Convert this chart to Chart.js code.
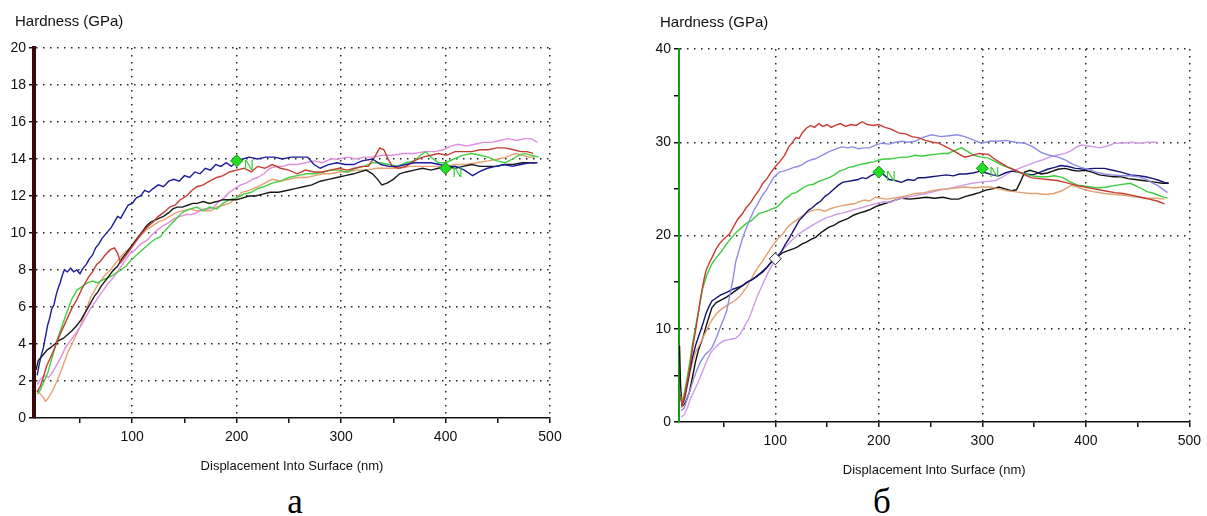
<!DOCTYPE html>
<html>
<head>
<meta charset="utf-8">
<script src="https://cdn.jsdelivr.net/npm/chart.js@4.4.1/dist/chart.umd.min.js"></script>
<style>
    body { margin: 0; background: #fff; }
    #page { position: relative; width: 1207px; height: 516px; overflow: hidden; }
    .box { position: absolute; top: 0; }
    .cap {
        position: absolute;
        font-family: "Liberation Serif", "Times New Roman", serif;
        font-size: 35px;
        line-height: 35px;
        transform: translateX(-50%);
        color: #000;
    }
</style>
</head>
<body>
<div id="page">
    <div class="box" style="left:0;width:590px;height:478px"><canvas id="chart-a"></canvas></div>
    <div class="box" style="left:640px;width:567px;height:480px"><canvas id="chart-b"></canvas></div>
    <div class="cap" style="left:295px;top:484px">а</div>
    <div class="cap" style="left:882px;top:484px">б</div>
</div>
<script>
(function () {
    "use strict";

    // panel а : hardness vs displacement, six indents
    const aNavy = [[9,2.3],[11,2.9],[13,3.4],[15,3.8],[17,4.4],[19,5.0],[21,5.4],[23,5.9],[25,6.1],[27,6.6],[29,7.0],[31,7.3],[33,7.7],[35,8.0],[38,7.9],[41,8.1],[44,7.9],[47,8.0],[50,7.8],[53,8.1],[56,8.3],[59,8.6],[62,8.8],[65,9.2],[68,9.4],[71,9.7],[74,9.9],[77,10.1],[80,10.3],[83,10.6],[86,10.9],[89,10.8],[92,11.1],[96,11.5],[100,11.6],[104,11.9],[108,12.0],[112,12.3],[116,12.2],[120,12.4],[125,12.6],[130,12.5],[135,12.8],[140,12.9],[145,12.8],[150,13.1],[155,13.0],[160,13.3],[165,13.2],[170,13.5],[175,13.4],[180,13.7],[185,13.6],[190,13.8],[195,13.6],[200,13.9],[206,14.0],[212,14.1],[220,14.0],[228,14.1],[236,14.1],[244,14.0],[252,14.1],[260,14.1],[268,14.1],[274,13.7],[280,13.5],[288,13.7],[296,13.8],[304,13.7],[312,13.7],[320,13.9],[330,14.0],[338,13.7],[346,13.6],[354,13.6],[362,13.7],[370,13.8],[378,13.8],[386,13.8],[394,13.7],[402,13.6],[410,13.6],[418,13.4],[426,13.1],[432,13.3],[440,13.5],[448,13.6],[456,13.7],[464,13.6],[472,13.7],[480,13.8],[488,13.8]];
    const aRed = [[9,1.4],[12,1.7],[15,2.2],[18,2.8],[22,3.3],[26,3.8],[30,4.4],[34,4.9],[38,5.4],[42,5.9],[47,6.4],[52,7.0],[58,7.6],[62,7.9],[66,8.3],[70,8.5],[74,8.8],[79,9.1],[83,9.2],[86,8.9],[89,8.4],[93,8.7],[98,9.1],[103,9.5],[108,9.9],[114,10.3],[120,10.6],[125,10.9],[130,11.1],[136,11.4],[141,11.5],[146,11.8],[152,12.0],[157,12.3],[162,12.5],[168,12.6],[174,12.8],[181,13.0],[187,13.1],[193,13.3],[200,13.4],[207,13.5],[214,13.3],[220,13.6],[227,13.5],[234,13.7],[242,13.5],[250,13.4],[258,13.2],[266,13.4],[274,13.3],[282,13.3],[290,13.4],[298,13.5],[306,13.4],[313,13.5],[320,13.6],[326,13.6],[332,14.1],[337,14.6],[341,14.5],[345,14.0],[349,13.6],[355,13.5],[362,13.6],[370,13.9],[378,14.1],[386,14.2],[393,14.3],[401,14.2],[409,14.4],[417,14.4],[425,14.4],[433,14.5],[441,14.5],[449,14.6],[457,14.6],[465,14.5],[472,14.4],[478,14.4],[484,14.3]];
    const aPink = [[9,1.8],[12,2.1],[16,2.3],[20,2.2],[24,2.5],[28,2.9],[32,3.3],[36,3.8],[40,4.1],[45,4.5],[50,4.9],[55,5.4],[60,5.9],[66,6.4],[71,6.8],[76,7.2],[82,7.6],[87,8.0],[92,8.4],[98,8.9],[103,9.1],[108,9.4],[114,9.6],[119,9.9],[125,10.2],[130,10.4],[136,10.6],[141,10.8],[146,10.9],[152,11.0],[157,11.0],[162,11.1],[168,11.3],[173,11.3],[178,11.4],[183,11.7],[188,11.9],[193,12.2],[198,12.4],[204,12.6],[209,12.7],[215,12.9],[220,13.0],[226,13.2],[232,13.5],[238,13.6],[244,13.6],[250,13.7],[258,13.7],[266,13.8],[274,13.9],[282,13.8],[290,14.0],[298,14.0],[306,14.1],[314,14.0],[322,14.1],[330,14.1],[340,14.2],[350,14.2],[360,14.3],[370,14.3],[380,14.4],[390,14.4],[398,14.5],[405,14.7],[412,14.8],[420,14.7],[428,14.8],[436,14.9],[444,14.9],[452,15.0],[460,15.1],[468,15.0],[476,15.1],[482,15.1],[488,14.9]];
    const aGreen = [[9,1.3],[12,1.5],[15,1.9],[19,2.4],[23,3.2],[28,4.2],[33,5.0],[38,5.8],[42,6.4],[47,6.9],[52,7.1],[57,7.3],[62,7.4],[67,7.3],[73,7.5],[78,7.6],[84,7.8],[89,8.0],[94,8.2],[100,8.6],[106,8.9],[112,9.2],[118,9.5],[123,9.7],[127,9.8],[131,10.1],[136,10.4],[141,10.7],[146,11.0],[151,11.2],[156,11.3],[162,11.4],[168,11.2],[174,11.4],[181,11.3],[187,11.6],[193,11.8],[200,11.9],[207,12.1],[214,12.2],[220,12.4],[226,12.5],[234,12.7],[242,12.8],[250,13.0],[258,13.1],[267,13.2],[275,13.2],[283,13.3],[290,13.4],[298,13.4],[306,13.3],[314,13.5],[322,13.6],[330,13.8],[338,13.8],[346,13.7],[354,13.6],[362,13.8],[370,13.9],[376,14.2],[381,14.4],[386,14.1],[393,13.8],[400,13.8],[408,14.0],[416,14.2],[425,14.3],[433,14.2],[441,14.1],[449,13.9],[457,13.8],[464,14.0],[470,14.2],[476,14.3],[482,14.2],[489,14.1]];
    const aOrange = [[9,1.5],[12,1.3],[15,1.1],[17,0.9],[20,1.1],[24,1.5],[28,2.0],[33,2.7],[38,3.5],[44,4.2],[50,4.9],[55,5.7],[60,6.5],[66,7.1],[72,7.6],[79,8.0],[86,8.5],[92,8.9],[98,9.2],[104,9.6],[109,9.9],[114,10.2],[120,10.4],[125,10.6],[130,10.7],[136,10.9],[142,11.1],[149,11.2],[156,11.3],[162,11.2],[169,11.2],[175,11.2],[181,11.4],[187,11.5],[193,11.6],[200,11.9],[205,12.2],[212,12.3],[220,12.5],[227,12.7],[234,12.9],[242,12.8],[250,12.9],[258,13.0],[267,13.0],[275,13.1],[283,13.2],[290,13.2],[298,13.3],[306,13.3],[314,13.4],[324,13.4],[334,13.5],[346,13.5],[356,13.5],[366,13.6],[378,13.6],[388,13.6],[398,13.6],[410,13.7],[420,13.7],[430,13.8],[441,13.9],[450,14.0],[458,14.1],[467,14.3],[474,14.2],[480,14.1],[486,14.1]];
    const aBlack = [[8,2.6],[10,3.1],[13,3.3],[16,3.5],[19,3.7],[22,3.8],[26,4.0],[30,4.2],[34,4.3],[38,4.5],[42,4.7],[47,5.0],[51,5.3],[55,5.7],[60,6.2],[64,6.6],[67,6.8],[70,7.1],[74,7.4],[78,7.7],[82,8.0],[86,8.2],[90,8.6],[94,8.9],[98,9.2],[102,9.5],[106,9.8],[110,10.1],[114,10.4],[118,10.6],[122,10.7],[126,10.8],[130,10.9],[135,11.1],[139,11.3],[143,11.4],[148,11.4],[153,11.5],[158,11.6],[162,11.6],[168,11.7],[174,11.6],[181,11.7],[187,11.8],[193,11.8],[200,11.8],[206,11.9],[212,12.0],[218,12.0],[225,12.1],[232,12.2],[240,12.2],[248,12.3],[256,12.4],[264,12.5],[272,12.6],[280,12.8],[288,12.9],[296,13.0],[304,13.1],[312,13.2],[318,13.3],[324,13.4],[330,13.2],[335,12.9],[339,12.6],[344,12.7],[350,12.9],[356,13.2],[362,13.3],[370,13.4],[378,13.5],[386,13.4],[393,13.5],[401,13.6],[409,13.5],[417,13.6],[425,13.7],[433,13.6],[441,13.6],[449,13.6],[457,13.7],[465,13.7],[473,13.8],[480,13.8],[486,13.8]];
    const aMarks = [[200,13.9],[400,13.5]];
    const aMarkText = ["N", "N"];

    // panel б : seven indents
    const bRed = [[8,3.0],[10,1.9],[12,2.6],[14,3.8],[17,5.5],[20,7.8],[23,9.8],[25,11.2],[28,13.4],[31,15.2],[33,16.2],[36,17.0],[40,17.9],[43,18.6],[46,19.1],[50,19.6],[53,19.9],[56,20.2],[60,21.0],[64,21.8],[68,22.3],[72,23.0],[76,23.5],[80,24.2],[84,24.8],[88,25.6],[92,26.1],[96,26.8],[101,27.5],[105,28.0],[109,28.6],[113,29.5],[116,29.9],[120,30.5],[123,30.4],[126,31.0],[130,31.5],[134,31.8],[138,31.6],[142,32.0],[146,31.7],[150,31.9],[154,31.6],[158,31.8],[163,32.0],[168,31.7],[173,31.9],[178,31.8],[184,32.2],[189,31.9],[195,31.8],[200,31.9],[206,31.6],[212,31.4],[219,31.0],[226,30.9],[232,30.6],[238,30.5],[245,30.2],[252,30.0],[258,29.9],[265,29.5],[272,29.1],[278,28.7],[283,28.4],[290,28.6],[297,28.8],[306,28.7],[313,28.1],[319,27.7],[325,27.3],[332,27.0],[339,26.6],[347,26.2],[355,26.1],[363,26.0],[372,25.9],[380,25.7],[390,25.4],[399,25.2],[408,25.0],[418,24.8],[428,24.6],[436,24.5],[445,24.3],[453,24.1],[461,23.9],[469,23.7],[476,23.4]];
    const bLavender = [[9,1.2],[12,1.5],[15,2.5],[18,3.5],[21,4.6],[24,5.5],[28,6.5],[32,7.2],[36,7.6],[39,8.0],[43,9.0],[47,10.2],[50,11.0],[53,11.9],[56,13.5],[59,15.2],[62,17.3],[65,18.4],[68,19.6],[72,20.8],[75,21.6],[79,22.6],[83,23.4],[87,24.2],[91,24.8],[95,25.6],[99,26.3],[104,26.8],[108,26.9],[113,27.1],[118,27.3],[122,27.4],[126,27.6],[130,27.9],[134,28.1],[138,28.2],[142,28.4],[147,28.7],[152,29.0],[157,29.2],[161,29.4],[165,29.5],[170,29.4],[175,29.5],[180,29.3],[186,29.4],[191,29.4],[197,29.7],[203,29.9],[210,29.8],[216,30.0],[222,30.1],[228,30.0],[235,30.1],[242,30.5],[251,30.8],[260,30.6],[268,30.7],[276,30.8],[283,30.6],[290,30.3],[299,29.9],[307,30.1],[315,30.1],[323,30.2],[332,30.0],[341,29.9],[349,29.5],[357,28.9],[365,28.6],[373,28.4],[380,28.1],[388,27.6],[395,27.3],[402,27.1],[410,26.8],[418,26.6],[425,26.5],[433,26.4],[442,26.4],[451,26.3],[459,26.0],[465,25.6],[469,25.4],[474,25.0],[479,24.6]];
    const bGreen = [[8,3.0],[10,2.2],[12,3.0],[15,4.8],[18,6.8],[20,8.4],[23,10.2],[26,12.0],[30,14.4],[34,15.8],[39,17.0],[43,17.6],[48,18.3],[53,19.1],[58,19.8],[63,20.4],[68,20.9],[72,21.3],[77,21.6],[81,22.0],[85,22.4],[89,22.5],[94,22.7],[98,22.9],[101,23.0],[105,23.4],[109,23.9],[113,24.2],[116,24.5],[120,24.6],[124,24.9],[128,25.2],[132,25.4],[137,25.5],[142,25.8],[147,26.0],[152,26.2],[157,26.5],[162,26.9],[167,27.1],[171,27.3],[176,27.4],[181,27.6],[186,27.7],[190,27.8],[195,27.9],[200,28.1],[205,28.2],[210,28.2],[216,28.3],[222,28.4],[228,28.4],[235,28.6],[241,28.5],[247,28.6],[254,28.7],[261,28.8],[267,28.8],[273,29.1],[280,29.4],[286,29.0],[292,28.6],[299,28.4],[306,28.3],[313,27.9],[320,27.5],[328,27.2],[335,26.8],[341,26.6],[348,26.4],[355,26.3],[363,26.3],[370,26.4],[378,26.2],[384,25.8],[392,25.4],[400,25.3],[411,25.1],[420,25.2],[430,25.4],[443,25.6],[451,25.2],[459,24.7],[466,24.5],[473,24.2],[479,24.0]];
    const bNavy = [[8,3.0],[10,1.9],[12,2.4],[14,3.5],[17,5.2],[20,6.9],[23,8.2],[26,9.2],[30,10.5],[33,11.6],[36,12.4],[39,13.0],[43,13.3],[47,13.6],[53,13.9],[58,14.2],[63,14.4],[68,14.6],[73,15.0],[78,15.3],[83,15.7],[88,16.1],[92,16.6],[97,17.3],[101,17.6],[106,18.3],[110,19.1],[114,19.8],[118,20.6],[123,21.6],[128,22.2],[132,22.7],[136,23.0],[140,23.4],[144,23.7],[148,24.2],[152,24.5],[156,24.9],[161,25.4],[165,25.7],[170,25.8],[175,25.9],[180,26.0],[184,26.2],[188,26.1],[192,26.4],[196,26.6],[200,26.8],[205,26.5],[210,26.0],[216,25.9],[222,25.7],[228,26.0],[234,25.9],[238,26.2],[244,26.2],[251,26.3],[258,26.4],[265,26.5],[272,26.4],[278,26.6],[284,26.6],[291,26.7],[298,26.9],[304,26.7],[310,26.5],[316,26.4],[322,26.7],[328,26.9],[335,26.8],[342,26.6],[349,26.5],[356,26.8],[363,27.1],[370,27.3],[376,27.5],[383,27.4],[390,27.2],[399,27.1],[408,27.2],[418,27.2],[426,27.0],[434,26.8],[443,26.5],[451,26.4],[458,26.3],[465,26.1],[471,25.9],[476,25.7],[480,25.6]];
    const bOrange = [[9,1.5],[12,2.2],[14,3.2],[17,5.0],[20,6.4],[23,7.5],[26,8.1],[30,9.0],[34,9.9],[38,10.8],[43,11.6],[48,12.1],[52,12.4],[56,12.7],[61,13.0],[66,13.5],[72,14.4],[76,15.2],[80,16.0],[84,16.7],[88,17.3],[92,18.0],[96,18.7],[100,19.3],[104,19.8],[108,20.3],[112,20.9],[116,21.3],[120,21.6],[125,22.0],[130,22.4],[136,22.7],[142,22.8],[148,22.6],[154,22.9],[160,23.1],[165,23.2],[170,23.3],[176,23.4],[181,23.6],[186,23.8],[191,23.7],[197,24.1],[202,24.0],[208,23.9],[214,24.0],[220,24.1],[228,24.3],[236,24.5],[244,24.6],[251,24.8],[258,24.9],[266,25.0],[274,25.1],[283,25.2],[292,25.1],[300,25.2],[308,25.2],[316,25.0],[324,24.8],[331,24.7],[338,24.6],[346,24.5],[353,24.5],[361,24.4],[369,24.5],[377,24.8],[386,25.4],[392,25.2],[399,24.9],[407,24.7],[418,24.5],[428,24.4],[437,24.3],[443,24.2],[452,24.1],[460,24.0],[468,24.0],[476,23.9]];
    const bViolet = [[9,0.5],[12,0.8],[15,1.5],[18,2.5],[22,3.4],[26,4.4],[30,5.5],[34,6.6],[38,7.5],[42,8.0],[46,8.4],[50,8.7],[54,8.8],[58,8.9],[62,9.0],[66,9.4],[70,10.2],[75,11.2],[79,12.4],[83,13.6],[88,14.8],[92,15.8],[96,16.6],[101,17.6],[106,18.3],[111,18.9],[116,19.5],[121,20.0],[127,20.5],[133,20.9],[139,21.3],[144,21.6],[149,21.9],[155,22.1],[160,22.3],[165,22.4],[171,22.6],[177,22.8],[184,23.0],[190,23.2],[197,23.4],[204,23.6],[212,23.6],[219,23.9],[226,24.1],[233,24.2],[240,24.4],[246,24.5],[253,24.7],[260,24.9],[267,25.0],[274,25.2],[282,25.4],[290,25.6],[297,25.7],[305,25.8],[313,25.9],[320,26.3],[326,26.7],[331,27.0],[338,27.3],[345,27.6],[352,27.9],[358,28.1],[365,28.4],[372,28.6],[380,28.8],[386,29.1],[391,29.5],[396,29.7],[402,29.6],[408,29.5],[414,29.4],[421,29.6],[428,29.9],[436,29.9],[444,30.0],[452,29.9],[460,30.0],[469,30.0]];
    const bBlack = [[7.5,8.2],[8.5,4.0],[10,1.7],[12,1.9],[14,2.3],[17,3.2],[20,4.8],[23,6.5],[26,7.8],[30,9.0],[33,10.2],[36,11.3],[39,12.3],[43,12.8],[48,13.1],[53,13.4],[58,13.8],[63,14.2],[68,14.6],[73,15.0],[78,15.3],[83,15.7],[88,16.2],[92,16.6],[96,17.1],[101,17.6],[104,17.9],[108,18.2],[113,18.4],[118,18.6],[122,18.8],[126,19.1],[130,19.3],[135,19.6],[139,19.8],[144,20.3],[148,20.6],[152,20.9],[157,21.1],[161,21.4],[165,21.6],[170,21.8],[176,22.2],[181,22.4],[187,22.6],[192,22.8],[197,23.1],[202,23.3],[208,23.5],[216,23.8],[222,24.0],[230,23.9],[238,24.0],[246,24.1],[254,24.0],[262,24.1],[270,23.9],[277,23.9],[284,24.2],[291,24.4],[297,24.6],[304,24.9],[310,25.0],[316,25.2],[322,25.0],[328,24.8],[333,24.9],[337,25.8],[341,26.8],[346,27.0],[352,26.8],[357,26.6],[363,26.7],[368,26.9],[373,27.1],[380,27.2],[387,27.0],[393,26.9],[399,27.0],[406,26.8],[413,26.5],[420,26.4],[427,26.3],[434,26.3],[441,26.1],[448,26.0],[455,25.9],[462,25.8],[468,25.7],[474,25.6],[480,25.6]];
    const bMarks = [[200,26.8],[300,27.2]];
    const bMarkText = ["N", "N"];
    const bOpenMarks = [[100,17.5]];

    const yTitle = "Hardness (GPa)";
    const xTitle = "Displacement Into Surface (nm)";
    const font = '"Liberation Sans", Arial, sans-serif';
    const dots = [1.5, 5.5];

    // little "N" tags beside the green diamonds (dataset 0)
    const markText = {
        id: "markText",
        afterDatasetsDraw(chart, args, opts) {
            const ctx = chart.ctx;
            ctx.save();
            ctx.font = "14px " + font;
            ctx.fillStyle = "#3ccc3c";
            ctx.textBaseline = "middle";
            chart.getDatasetMeta(0).data.forEach((pt, i) => {
                ctx.fillText(opts.text[i] || "", pt.x + 7, pt.y + 5);
            });
            ctx.restore();
        },
    };

    // axis name written flat above the y axis, like the instrument software does
    const cornerTitle = {
        id: "cornerTitle",
        afterDraw(chart, args, opts) {
            const ctx = chart.ctx;
            ctx.save();
            ctx.font = "15px " + font;
            ctx.fillStyle = "#111";
            ctx.textBaseline = "middle";
            ctx.fillText(opts.text, chart.chartArea.left - 19, opts.y);
            ctx.restore();
        },
    };

    const line = (data, color) => ({
        data: data,
        borderColor: color,
        backgroundColor: color,
        borderWidth: 1.4,
        showLine: true,
        pointRadius: 0,
        tension: 0,
    });

    const marks = (data, fill, edge) => ({
        data: data,
        pointStyle: "rectRot",
        pointRadius: 6,
        backgroundColor: fill,
        borderColor: edge,
        borderWidth: 1,
        showLine: false,
    });

    function hardnessChart(id, cfg) {
        return new Chart(document.getElementById(id), {
            type: "scatter",
            data: { datasets: cfg.datasets },
            plugins: [markText, cornerTitle],
            options: {
                animation: false,
                responsive: true,
                maintainAspectRatio: false,
                layout: { padding: cfg.padding },
                plugins: {
                    legend: { display: false },
                    tooltip: { enabled: false },
                    title: { display: false },
                    markText: { text: cfg.markText },
                    cornerTitle: { text: yTitle, y: cfg.titleY },
                },
                scales: {
                    x: {
                        type: "linear",
                        min: cfg.xMin,
                        max: 500,
                        afterFit: (s) => { s.height = cfg.xHeight; },
                        ticks: {
                            stepSize: 50,
                            maxTicksLimit: 100,
                            autoSkip: false,
                            maxRotation: 0,
                            color: "#111",
                            padding: 6,
                            font: { family: font, size: 14 },
                            callback: (v) => (v % 100 === 0 ? v : ""),
                        },
                        grid: {
                            color: (c) => (c.tick && c.tick.value % 100 === 0 ? "#222" : "transparent"),
                            tickColor: (c) => (c.tick && c.tick.value % 50 === 0 ? "#111" : "transparent"),
                            lineWidth: 1.5,
                            tickLength: 5,
                        },
                        border: { color: "#111", width: 1.5, dash: dots },
                        title: {
                            display: true,
                            text: xTitle,
                            color: "#111",
                            font: { family: font, size: 13 },
                            padding: { top: 0, bottom: cfg.xTitlePad },
                        },
                    },
                    y: {
                        min: 0,
                        max: cfg.yMax,
                        afterFit: (s) => { s.width = cfg.yWidth; },
                        ticks: {
                            stepSize: cfg.yMinor,
                            maxTicksLimit: 100,
                            color: "#111",
                            padding: 3,
                            font: { family: font, size: 14 },
                            callback: (v) => (v % cfg.yMajor === 0 ? v : ""),
                        },
                        grid: {
                            color: (c) => (c.tick && c.tick.value > 0 && c.tick.value % cfg.yMajor === 0 ? "#222" : "transparent"),
                            tickColor: "#111",
                            lineWidth: 1.5,
                            tickLength: 5,
                        },
                        border: { color: cfg.yAxisColor, width: cfg.yAxisWidth, dash: dots },
                    },
                },
            },
        });
    }

    hardnessChart("chart-a", {
        datasets: [
            marks(aMarks, "#22dd22", "#129012"),
            line(aNavy, "#1c1c9c"),
            line(aRed, "#c43c32"),
            line(aBlack, "#1a1a1a"),
            line(aGreen, "#44d044"),
            line(aPink, "#e08ee0"),
            line(aOrange, "#e8a070"),
        ],
        markText: aMarkText,
        padding: { left: 0, right: 40, top: 48, bottom: 0 },
        titleY: 22,
        yWidth: 34,
        xMin: 6,
        xHeight: 60,
        xTitlePad: 4,
        yMax: 20,
        yMinor: 1,
        yMajor: 2,
        yAxisColor: "#3a0808",
        yAxisWidth: 4,
    });

    hardnessChart("chart-b", {
        datasets: [
            marks(bMarks, "#22dd22", "#129012"),
            marks(bOpenMarks, "#ffffff", "#222222"),
            line(bRed, "#c83a32"),
            line(bLavender, "#8c8ce6"),
            line(bGreen, "#3ccc3c"),
            line(bNavy, "#14147a"),
            line(bOrange, "#e0a070"),
            line(bViolet, "#d09ae6"),
            line(bBlack, "#111111"),
        ],
        markText: bMarkText,
        padding: { left: 0, right: 17, top: 49, bottom: 0 },
        titleY: 23,
        yWidth: 39,
        xMin: 7,
        xHeight: 58,
        xTitlePad: 2,
        yMax: 40,
        yMinor: 5,
        yMajor: 10,
        yAxisColor: "#1a9a1a",
        yAxisWidth: 2,
    });
})();
</script>
</body>
</html>
